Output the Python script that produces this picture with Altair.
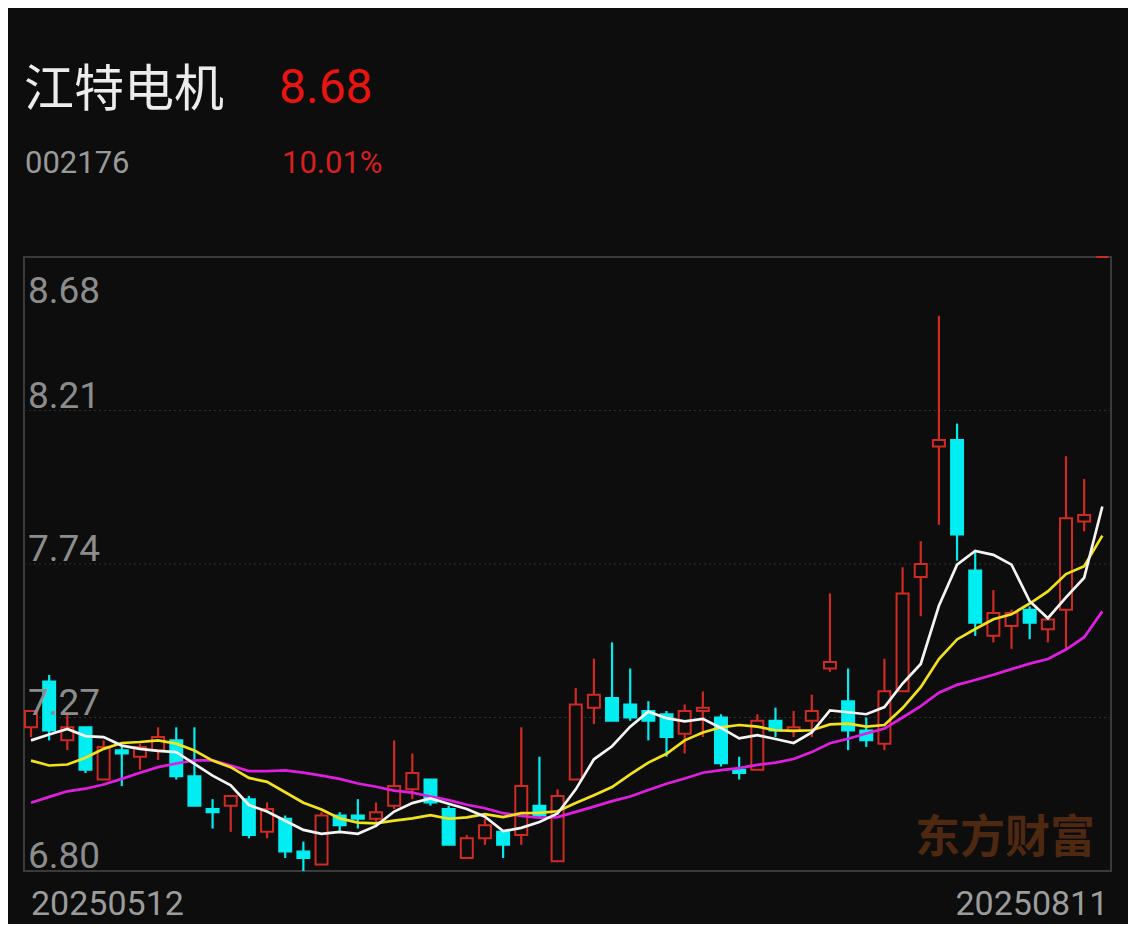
import altair as alt
import pandas as pd

# ---------------- data ----------------
stock_name = "江特电机"
stock_code = "002176"
last_price = "8.68"
pct_change = "10.01%"
date_labels = ["20250512", "20250811"]
y_ticks = [6.80, 7.27, 7.74, 8.21, 8.68]
watermark = "东方财富"

opens = [7.24, 7.38, 7.20, 7.24, 7.08, 7.17, 7.15, 7.17, 7.20, 7.09,
         6.99, 7.00, 7.02, 6.92, 6.96, 6.86, 6.82, 6.97, 6.97, 6.96,
         7.00, 7.05, 7.08, 6.99, 6.84, 6.90, 6.92, 6.91, 7.00, 6.83,
         7.08, 7.30, 7.33, 7.31, 7.29, 7.28, 7.22, 7.29, 7.27, 7.11,
         7.11, 7.26, 7.23, 7.26, 7.42, 7.32, 7.23, 7.19, 7.35, 7.70,
         8.10, 8.12, 7.72, 7.52, 7.55, 7.60, 7.54, 7.60, 7.87, 8.68]
highs = [7.29, 7.40, 7.28, 7.24, 7.20, 7.18, 7.19, 7.24, 7.24, 7.24,
         7.02, 7.03, 7.03, 7.01, 6.97, 6.89, 6.98, 6.98, 7.02, 7.01,
         7.20, 7.16, 7.08, 7.00, 6.91, 6.96, 6.92, 7.24, 7.15, 7.05,
         7.36, 7.45, 7.50, 7.42, 7.32, 7.29, 7.31, 7.35, 7.28, 7.15,
         7.28, 7.30, 7.29, 7.34, 7.65, 7.42, 7.27, 7.45, 7.73, 7.81,
         8.50, 8.17, 7.78, 7.66, 7.60, 7.61, 7.57, 8.07, 8.00, 8.68]
lows = [7.21, 7.20, 7.17, 7.10, 7.08, 7.06, 7.11, 7.14, 7.08, 7.00,
        6.93, 6.92, 6.90, 6.90, 6.84, 6.80, 6.82, 6.92, 6.93, 6.95,
        6.99, 7.02, 7.00, 6.88, 6.84, 6.88, 6.84, 6.88, 6.96, 6.83,
        7.08, 7.25, 7.26, 7.26, 7.20, 7.15, 7.16, 7.21, 7.12, 7.08,
        7.11, 7.21, 7.21, 7.21, 7.41, 7.17, 7.18, 7.17, 7.35, 7.58,
        7.86, 7.75, 7.52, 7.50, 7.48, 7.51, 7.50, 7.48, 7.84, 8.68]
closes = [7.29, 7.23, 7.24, 7.11, 7.18, 7.16, 7.18, 7.21, 7.09, 7.00,
          6.98, 7.03, 6.91, 6.99, 6.86, 6.84, 6.97, 6.94, 6.96, 6.98,
          7.06, 7.10, 7.01, 6.88, 6.90, 6.94, 6.88, 7.06, 6.97, 7.03,
          7.31, 7.34, 7.26, 7.27, 7.26, 7.21, 7.29, 7.30, 7.13, 7.10,
          7.26, 7.23, 7.24, 7.29, 7.44, 7.23, 7.20, 7.35, 7.65, 7.74,
          8.12, 7.83, 7.56, 7.59, 7.59, 7.56, 7.57, 7.88, 7.89, 8.68]
ma5 = [7.200, 7.218, 7.235, 7.213, 7.210, 7.184, 7.174, 7.168, 7.164, 7.128,
       7.092, 7.062, 7.002, 6.982, 6.954, 6.926, 6.914, 6.920, 6.914, 6.938,
       6.982, 7.008, 7.022, 7.006, 6.990, 6.966, 6.922, 6.932, 6.950, 6.976,
       7.050, 7.142, 7.182, 7.242, 7.288, 7.268, 7.258, 7.266, 7.238, 7.206,
       7.216, 7.204, 7.192, 7.224, 7.292, 7.286, 7.280, 7.302, 7.374, 7.434,
       7.612, 7.738, 7.780, 7.768, 7.738, 7.626, 7.574, 7.638, 7.698, 7.916]
ma10 = [7.138, 7.123, 7.126, 7.147, 7.174, 7.192, 7.195, 7.200, 7.190, 7.169,
        7.138, 7.118, 7.085, 7.073, 7.041, 7.009, 6.988, 6.961, 6.948, 6.946,
        6.954, 6.961, 6.971, 6.960, 6.964, 6.974, 6.965, 6.977, 6.978, 6.983,
        7.008, 7.032, 7.057, 7.096, 7.132, 7.159, 7.200, 7.224, 7.240, 7.247,
        7.242, 7.231, 7.229, 7.231, 7.249, 7.251, 7.242, 7.247, 7.299, 7.363,
        7.449, 7.509, 7.541, 7.571, 7.586, 7.619, 7.656, 7.709, 7.733, 7.827]
ma20 = [7.009, 7.027, 7.044, 7.052, 7.065, 7.082, 7.101, 7.118, 7.129, 7.139,
        7.139, 7.123, 7.106, 7.106, 7.108, 7.101, 7.092, 7.082, 7.068, 7.058,
        7.046, 7.040, 7.028, 7.017, 7.003, 6.992, 6.977, 6.969, 6.963, 6.965,
        6.981, 6.997, 7.014, 7.028, 7.048, 7.067, 7.083, 7.101, 7.109, 7.115,
        7.125, 7.132, 7.143, 7.164, 7.191, 7.205, 7.221, 7.236, 7.270, 7.305,
        7.346, 7.370, 7.385, 7.401, 7.418, 7.435, 7.449, 7.478, 7.516, 7.595]

# ---------------- styles ----------------
BG = "#0d0d0d"
RED = "#cf2b22"
CYAN = "#00eef2"
TITLE_RED = "#e8140f"
GRID = "#303030"
LABEL_GRAY = "#8c8c8c"

n = len(closes)
direction = []
for i in range(n):
    if closes[i] > opens[i]:
        direction.append("up")
    elif closes[i] < opens[i]:
        direction.append("down")
    else:
        direction.append("up" if i == 0 or closes[i] >= closes[i - 1] else "down")

df = pd.DataFrame({
    "idx": list(range(n)),
    "open": opens, "high": highs, "low": lows, "close": closes,
    "ma5": ma5, "ma10": ma10, "ma20": ma20, "dir": direction,
})

W, H = 1087, 614
xscale = alt.Scale(domain=[-0.3855, 59.478], nice=False, zero=False)
yscale = alt.Scale(domain=[6.80, 8.68], nice=False, zero=False)

base = alt.Chart(df)

wicks = base.mark_rule(strokeWidth=2.2).encode(
    x=alt.X("idx:Q", scale=xscale, axis=None),
    y=alt.Y("low:Q", scale=yscale, axis=None),
    y2="high:Q",
    color=alt.Color("dir:N", scale=alt.Scale(domain=["up", "down"], range=[RED, CYAN]), legend=None),
)

bodies = base.transform_calculate(
    x0="datum.idx - 0.33",
    x1="datum.idx + 0.33",
    top="max(datum.open, datum.close)",
    bot="min(datum.open, datum.close)",
).mark_rect(strokeWidth=2).encode(
    x=alt.X("x0:Q", scale=xscale, axis=None),
    x2="x1:Q",
    y=alt.Y("bot:Q", scale=yscale, axis=None),
    y2="top:Q",
    fill=alt.Fill("dir:N", scale=alt.Scale(domain=["up", "down"], range=[BG, CYAN]), legend=None),
    stroke=alt.Stroke("dir:N", scale=alt.Scale(domain=["up", "down"], range=[RED, CYAN]), legend=None),
)

def ma_line(field, colour):
    return base.mark_line(strokeWidth=2.7, color=colour).encode(
        x=alt.X("idx:Q", scale=xscale, axis=None),
        y=alt.Y(f"{field}:Q", scale=yscale, axis=None),
    )

line5 = ma_line("ma5", "#f4f4f4")
line10 = ma_line("ma10", "#f2e21c")
line20 = ma_line("ma20", "#e01ee0")

tick_df = pd.DataFrame({"v": y_ticks, "label": [f"{t:.2f}" for t in y_ticks]})
grid = alt.Chart(tick_df).transform_filter(
    "datum.v > 6.801 && datum.v < 8.679"
).mark_rule(color=GRID, strokeWidth=1, strokeDash=[2, 3]).encode(
    y=alt.Y("v:Q", scale=yscale, axis=None),
)

ylab_lower = alt.Chart(tick_df).transform_filter("datum.v < 8.679").mark_text(
    align="left", baseline="alphabetic", dy=-3, font="Roboto", fontSize=37, color=LABEL_GRAY
).encode(
    x=alt.value(4),
    y=alt.Y("v:Q", scale=yscale, axis=None),
    text="label:N",
)
ylab_top = alt.Chart(tick_df).transform_filter("datum.v >= 8.679").mark_text(
    align="left", baseline="alphabetic", dy=46, font="Roboto", fontSize=37, color=LABEL_GRAY
).encode(
    x=alt.value(4),
    y=alt.Y("v:Q", scale=yscale, axis=None),
    text="label:N",
)

date_df = pd.DataFrame({"idx": [0, n - 1], "label": date_labels})
date_first = alt.Chart(date_df).transform_filter("datum.idx == 0").mark_text(
    align="left", baseline="alphabetic", dx=0, font="Roboto", fontSize=34, color="#9c9c9c"
).encode(x=alt.X("idx:Q", scale=xscale, axis=None), y=alt.value(658), text="label:N")
date_last = alt.Chart(date_df).transform_filter("datum.idx > 0").mark_text(
    align="right", baseline="alphabetic", dx=6, font="Roboto", fontSize=34, color="#9c9c9c"
).encode(x=alt.X("idx:Q", scale=xscale, axis=None), y=alt.value(658), text="label:N")

head_df = pd.DataFrame({"name": [stock_name], "code": [stock_code],
                        "price": [last_price], "pct": [pct_change], "wm": [watermark]})
hbase = alt.Chart(head_df)
t_name = hbase.mark_text(align="left", baseline="alphabetic", font="Noto Sans CJK SC",
                         fontSize=50, color="#ececec").encode(
    x=alt.value(0), y=alt.value(-151), text="name:N")
t_price = hbase.mark_text(align="left", baseline="alphabetic", font="Roboto",
                          fontSize=48, color=TITLE_RED).encode(
    x=alt.value(255), y=alt.value(-154), text="price:N")
t_code = hbase.mark_text(align="left", baseline="alphabetic", font="Roboto",
                         fontSize=31, color="#9a9a9a").encode(
    x=alt.value(1), y=alt.value(-84), text="code:N")
t_pct = hbase.mark_text(align="left", baseline="alphabetic", font="Roboto",
                        fontSize=31, color="#d8201c").encode(
    x=alt.value(258), y=alt.value(-84), text="pct:N")
t_wm = hbase.mark_text(align="right", baseline="alphabetic", font="Noto Sans CJK SC",
                       fontWeight="bold", fontSize=45, color="#4f2812").encode(
    x=alt.value(1071), y=alt.value(596), text="wm:N")

chart = alt.layer(
    grid, t_wm, wicks, bodies, line20, line10, line5,
    ylab_lower, ylab_top, date_first, date_last,
    t_name, t_price, t_code, t_pct,
).properties(
    width=W, height=H, background=BG,
    padding={"left": 16, "top": 249, "right": 17, "bottom": 53},
    autosize=alt.AutoSizeParams(type="none"),
).configure_view(stroke="#3a3a3a", strokeWidth=2)

chart.save("out.html", embed_options={"renderer": "svg", "actions": False})
